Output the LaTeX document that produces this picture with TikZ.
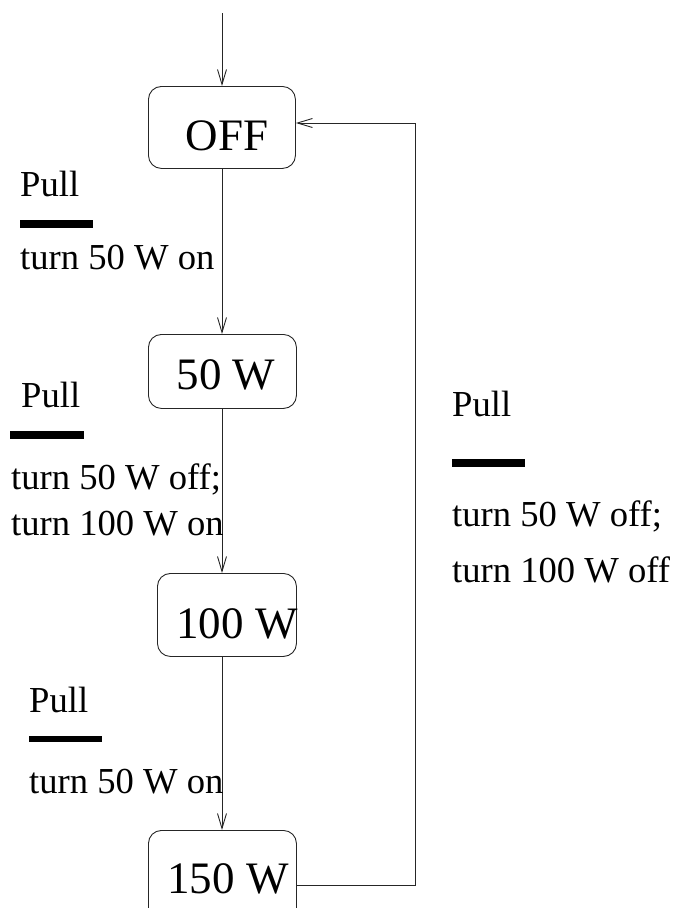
\documentclass[tikz,border=0pt]{standalone}
\usepackage{fontspec}
\setmainfont{Liberation Serif}
\usetikzlibrary{arrows.meta}
\begin{document}
\begin{tikzpicture}[x=1pt,y=-1pt,
  statebox/.style={draw=black!85,line width=0.9pt,rounded corners=13pt,inner sep=0pt,anchor=north west},
  boxtext/.style={inner sep=0pt,anchor=base,font=\fontsize{45}{54}\selectfont},
  lab/.style={inner sep=0pt,anchor=base west,font=\fontsize{36.6}{43}\selectfont},
  conn/.style={draw=black!85,line width=0.9pt},
  arr/.style={conn,-{Straight Barb[length=15pt,width=9pt,line width=0.9pt]}}]
\useasboundingbox (0,0) rectangle (677,908);
\clip (0,0) rectangle (677,908);
% state boxes
\node[statebox,minimum width=147pt,minimum height=82pt] (off) at (148,86) {};
\node[statebox,minimum width=148pt,minimum height=74pt] (w50) at (148,334) {};
\node[statebox,minimum width=139pt,minimum height=83pt] (w100) at (157,573) {};
\node[statebox,minimum width=148pt,minimum height=100pt] (w150) at (148,830) {};
% box texts
\node[boxtext] (toff) at (227,150) {OFF};
\node[boxtext] (t50) at (226,389) {50 W};
\node[boxtext] (t100) at (237,638) {100 W};
\node[boxtext] (t150) at (228,893) {150 W};
% connectors
\coordinate (start) at (222,13);
\draw[arr] (start) -- (start |- off.north);
\draw[arr] (start |- off.south) -- (start |- w50.north);
\draw[arr] (start |- w50.south) -- (start |- w100.north);
\draw[arr] (start |- w100.south) -- (start |- w150.north);
\coordinate (r1) at (415,885);
\coordinate (r2) at (415,123);
\draw[arr] (w150.east |- r1) -- (r1) -- (r2) -- (off.east |- r2);
% label 1
\node[lab] (p1) at (20,196) {Pull};
\fill (20,220) rectangle (93,228);
\node[lab] (l1) at (20,269) {turn 50 W on};
% label 2
\node[lab] (p2) at (21,407) {Pull};
\fill (10,431) rectangle (84,439);
\node[lab] (l2a) at (11,489) {turn 50 W off;};
\node[lab] (l2b) at (11,535) {turn 100 W on};
% label 3
\node[lab] (p3) at (29,712) {Pull};
\fill (29,736) rectangle (102,742);
\node[lab] (l3) at (29,793) {turn 50 W on};
% label 4
\node[lab] (p4) at (452,416) {Pull};
\fill (452,459) rectangle (525,467);
\node[lab] (l4a) at (452,526) {turn 50 W off;};
\node[lab] (l4b) at (452,582) {turn 100 W off};
\end{tikzpicture}
\end{document}
